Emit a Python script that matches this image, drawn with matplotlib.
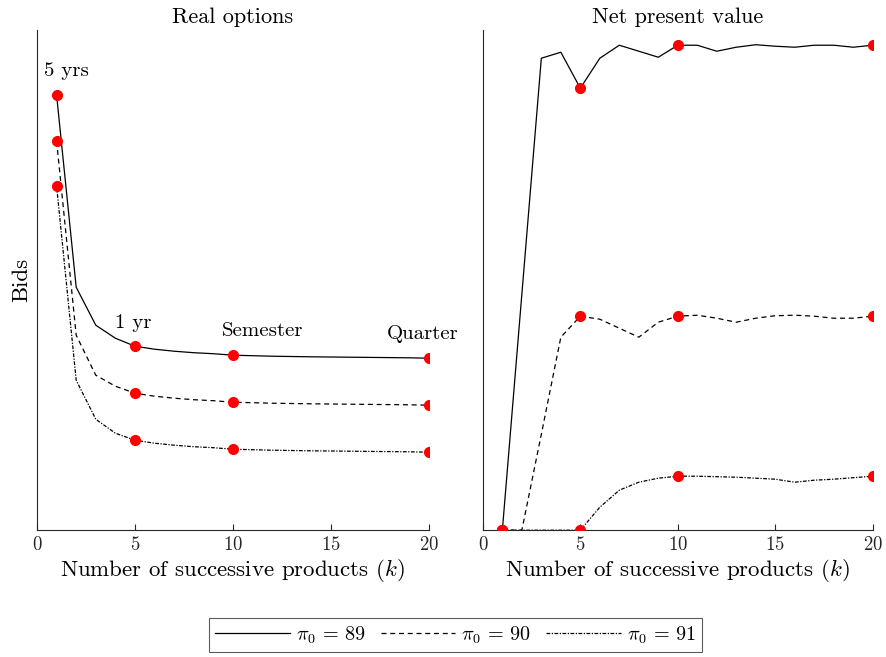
import numpy as np
import matplotlib.pyplot as plt

plt.rcParams['font.family'] = 'cmr10'
plt.rcParams['mathtext.fontset'] = 'cm'
plt.rcParams['axes.unicode_minus'] = False
plt.rcParams['axes.formatter.use_mathtext'] = True

k = np.arange(1, 21)
marks = [1, 5, 10, 20]

# real options bids (arbitrary units)
ro_89 = [435, 243, 205, 192, 184, 181, 179, 177.5, 176.5, 175,
         174.5, 174, 173.7, 173.4, 173.2, 173, 172.8, 172.6, 172.4, 172]
ro_90 = [389, 195, 155, 144, 137, 134, 132, 130.5, 129.5, 128,
         127.5, 127, 126.7, 126.4, 126.2, 126, 125.8, 125.6, 125.4, 125]
ro_91 = [344, 150, 111, 97, 90, 87, 85, 83.5, 82.5, 81,
         80.5, 80, 79.7, 79.4, 79.2, 79, 78.8, 78.6, 78.4, 78]

# net present value bids
npv_89 = [0, 236, 472, 478, 442, 472, 485, 479, 473, 485,
          485, 479, 483, 485.5, 484, 483, 485, 485, 483, 485]
npv_90 = [0, 0, 96, 193, 214, 211, 202, 193, 208, 214,
          215, 212, 208, 212, 214.5, 215, 214, 212, 212, 214]
npv_91 = [0, 0, 0, 0, 0, 23, 40, 48, 52, 54,
          54, 53.5, 53, 52, 51, 48, 50, 51, 52.5, 54]

labels = [r'$\pi_0\,=\,89$', r'$\pi_0\,=\,90$', r'$\pi_0\,=\,91$']
styles = ['-', (0, (4, 3)), (0, (3, 1.2, 1, 1.2))]

annot = ['5 yrs', '1 yr', 'Semester', 'Quarter']
annot_x = [1.5, 4.9, 11.5, 19.7]
annot_y = [450, 198, 190, 187]

fig = plt.figure(figsize=(8.86, 6.57), dpi=100)
ax1 = fig.add_axes([0.0418, 0.193, 0.442, 0.761])
ax2 = fig.add_axes([0.545, 0.193, 0.440, 0.761])

def panel(ax, series, title):
    lines = []
    for s, ls, lab in zip(series, styles, labels):
        ln, = ax.plot(k, s, color='black', linestyle=ls, linewidth=0.9, label=lab)
        lines.append(ln)
    for s in series:
        sel = [s[m - 1] for m in marks]
        ax.plot(marks, sel, 'o', color='red', markersize=7, zorder=5)
    ax.set_xlim(0, 20)
    ax.set_ylim(0, 500)
    ax.set_xticks([0, 5, 10, 15, 20])
    ax.set_yticks([])
    ax.tick_params(axis='x', direction='in', length=4, labelsize=13.5,
                   colors='0.15', labelcolor='0.15', pad=4)
    for sp in ['top', 'right']:
        ax.spines[sp].set_visible(False)
    for sp in ['left', 'bottom']:
        ax.spines[sp].set_color('0.15')
        ax.spines[sp].set_linewidth(0.8)
    ax.set_xlabel('Number of successive products ($k$)', fontsize=16.5, labelpad=2)
    ax.set_title(title, fontsize=16, pad=5)
    return lines

lines = panel(ax1, [ro_89, ro_90, ro_91], 'Real options')
panel(ax2, [npv_89, npv_90, npv_91], 'Net present value')
ax1.set_ylabel('Bids', fontsize=16.5, labelpad=4)

for t, x, y in zip(annot, annot_x, annot_y):
    ax1.text(x, y, t, fontsize=15, ha='center', va='bottom')

leg = fig.legend(handles=lines, loc='lower center', ncol=3,
                 bbox_to_anchor=(0.514, 0.0), fontsize=14.5,
                 frameon=True, fancybox=False, edgecolor='0.2',
                 handlelength=3.7, columnspacing=0.75, handletextpad=0.3,
                 borderpad=0.3, borderaxespad=0.25)
leg.get_frame().set_linewidth(0.8)

fig.savefig('out.png', dpi=100)
